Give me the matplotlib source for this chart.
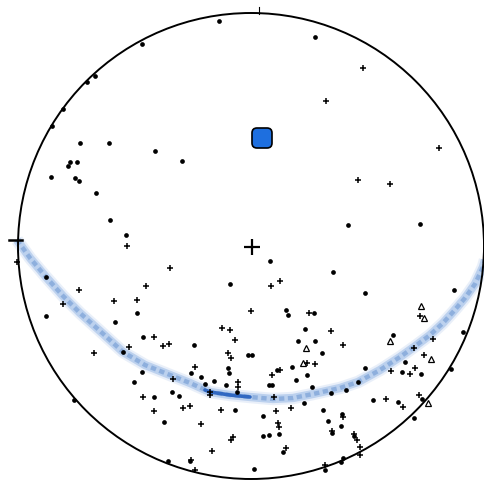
import numpy as np
import matplotlib
matplotlib.use("Agg")
from matplotlib import pyplot as plt
from matplotlib.patches import Circle, FancyBboxPatch

# digitised net coordinates: east / north from the net centre, primitive circle radius = 233
NET_R = 233

dots_e = [-109, -164, -156, -188, -199, -177, 200, 163, 74, -32, 64,
          -171, -142, -96, -174, -181, -183, -200, -176, -172, -155, -141, -125, -69, 97, 169,
          -205, -205, -114, -136, -108, -128, -109, -117, -97, -87,
          19, -21, 35, 37, 63, 54, 47, 64, -57, 71, -3, 1, 41, -23, -22, -60, 26, -50, -37,
          45, 56, -46, -25, 18, 21, 61, -79, -72, -14, 53, 72, -16, 12, 12, 18, 28, 32,
          -83, -61, 3,
          82, 114, 203, 142, 212, 154, 114, 151, 170, 107, 95, 80, 171, 122, 147, 91,
          77, 90, 81, 103, 92, 90]
dots_n = [202, 164, 170, 137, 120, -154, -123, -172, -224, 225, 209,
          103, 103, 95, 84, 84, 80, 69, 68, 65, 53, 26, 11, 85, 21, 22,
          -31, -70, -67, -76, -91, -106, -126, -136, -151, -176,
          -15, -38, -64, -69, -67, -83, -95, -95, -99, -107, -109, -109, -121, -122, -127, -127, -124, -131, -135,
          -134, -129, -138, -139, -139, -139, -141, -146, -150, -146, -157, -164, -164, -170, -190, -189, -188, -206,
          -215, -215, -223,
          -26, -47, -44, -89, -86, -116, -122, -126, -128, -136, -144, -147, -153, -154, -156, -168,
          -175, -180, -187, -190, -212, -216]

plus_e = [112, 188, 107, 139, 75, -234, -124, -172, -188, -105, -137, -114, -97, -88, -82, -122, -157,
          -108, -97, -81, 29, 20, 0, 58, -29, -21, -16, -23, -20, 56, 64, -56, 29, 21, -78, -13, -13,
          -41, -41, 23, 40, -68, -61, -30, 25, -50, 27, 28, -18, -20, -39, 35, -60, -56,
          80, 169, 92, 182, 163, 173, 164, 140, 159, 168, 135, 152, 92, 81, 103, 106, 109, 109, 74]
plus_n = [178, 98, 66, 62, 145, -16, 0, -44, -58, -40, -55, -54, -91, -100, -98, -101, -107,
          -151, -165, -22, -35, -40, -65, -67, -82, -84, -94, -107, -112, -117, -118, -121, -124, -129, -133, -136, -141,
          -146, -149, -151, -162, -162, -160, -164, -165, -178, -177, -181, -191, -194, -205, -202, -214, -224,
          -85, -70, -99, -93, -102, -109, -122, -125, -128, -149, -153, -161, -171, -185, -188, -194, -201, -209, -219]

tri_e = [170, 173, 139, 55, 52, 180, 177]
tri_n = [-60, -72, -95, -102, -117, -113, -157]

# mean pole
pole_e, pole_n = 11, 108

# traced great circle
band_e = [-234, -221, -205, -188, -171, -151, -128, -106, -86, -61, -41, -21, -1, 22, 42, 62,
          89, 107, 129, 149, 163, 179, 192, 202, 214, 224, 232, 234]
band_n = [6, -12, -31, -50, -67, -85, -106, -119, -127, -137, -146, -149, -151, -153, -152, -148,
          -142, -136, -124, -111, -101, -89, -77, -66, -52, -38, -21, -14]

fig = plt.figure(figsize=(4.85, 4.82), dpi=100)
ax = fig.add_axes([0, 0, 1, 1])
ax.set_xlim(-251, 234)
ax.set_ylim(-236, 246)
ax.set_aspect("equal")
ax.axis("off")

ax.add_patch(Circle((0, 0), NET_R, fill=False, ec="black", lw=1.4, zorder=3))
# north and west marks
ax.plot([8, 8], [NET_R - 1, NET_R + 6], color="black", lw=0.8, zorder=3)
ax.plot([-NET_R - 9, -NET_R + 4], [6, 6], color="black", lw=1.8, zorder=3)

be = np.array(band_e)
bn = np.array(band_n)
# soft blurred band
ax.plot(be, bn, color="#a9c3e8", lw=9, alpha=0.25, solid_capstyle="butt", zorder=1)
ax.plot(be, bn, color="#bcd1ee", lw=6, solid_capstyle="butt", zorder=1)
ax.plot(be, bn, color="#86aadb", lw=3.2, ls=(0, (1.2, 0.8)), alpha=0.85, zorder=1)
dark = (be >= -45) & (be <= 2)
ax.plot(np.r_[-46, be[dark]], np.r_[-144, bn[dark]], color="#3068c2", lw=2.6,
        solid_capstyle="round", zorder=2)

ax.plot(dots_e, dots_n, "o", color="black", ms=3.4, mew=0, zorder=4)
ax.plot(plus_e, plus_n, "+", color="black", ms=5, mew=1.1, zorder=4)
ax.plot(tri_e, tri_n, "^", mfc="none", mec="black", ms=4.5, mew=0.9, zorder=4)
ax.plot([1], [-1], "+", color="black", ms=11, mew=1.6, zorder=4)

ax.add_patch(FancyBboxPatch((pole_e - 10, pole_n - 10), 20, 20,
                            boxstyle="round,pad=0,rounding_size=5",
                            fc="#1e6fdf", ec="black", lw=1.2, zorder=5))

fig.savefig("out.png", dpi=100)
